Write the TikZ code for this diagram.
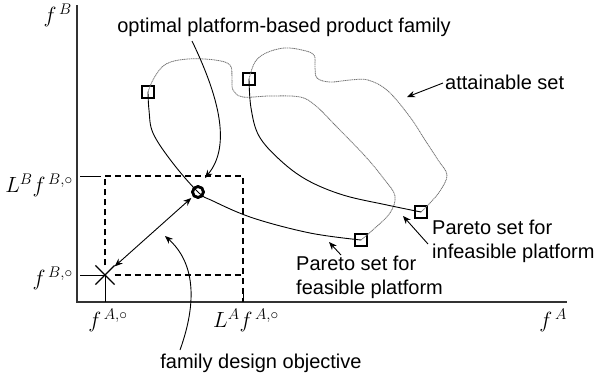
\documentclass[tikz,border=0pt]{standalone}
\usepackage{fix-cm}
\usepackage{fontspec}
\setmainfont{Liberation Sans}
\usetikzlibrary{arrows.meta,shapes.misc,calc}
\begin{document}
\begin{tikzpicture}[x=1pt,y=-1pt,
  txt/.style={font=\fontsize{20}{24}\selectfont, inner sep=0pt},
  mlab/.style={font=\fontsize{22}{24}\selectfont, inner sep=0pt},
  axis/.style={line width=1.5pt, draw=black!80},
  sq/.style={draw, line width=1.2pt, minimum size=12pt, inner sep=0pt},
  curve/.style={line width=0.9pt},
  att/.style={line width=0.8pt, draw=black!55, dash pattern=on 1.2pt off 0.6pt},
  arr/.style={line width=0.9pt, -{Stealth[length=8pt,width=6.5pt]}},
  dbox/.style={line width=1.3pt, dash pattern=on 6pt off 4pt},
  tick/.style={line width=0.9pt}]
\useasboundingbox (0,0) rectangle (616,381);
% axes
\coordinate (o) at (77,302);
\coordinate (ytop) at (77,5);
\coordinate (xend) at (567,302);
\draw[axis] (ytop) -- (o) -- (xend);
% key points
\node[cross out, draw, line width=1.2pt, minimum size=18pt, inner sep=0pt] (x0) at (105,275) {};
\node[circle, draw, line width=2.6pt, minimum size=11pt, inner sep=0pt] (opt) at (198,192) {};
\node[sq] (s1) at (148,92) {};
\node[sq] (s2) at (249,79) {};
\node[sq] (s3) at (361,240) {};
\node[sq] (s4) at (421,212) {};
% dashed box
\coordinate (tl) at (105,176);
\coordinate (tr) at (243,176);
\coordinate (br) at (243,275);
\coordinate (brx) at (243,302);
\draw[dbox] (tl) -- (tr) -- (brx);
\draw[dbox] (x0) -- (tl);
\draw[dbox] (x0) -- (br);
% ticks
\draw[tick] (80,176) -- (101,176);
\draw[tick] (80,275) -- (x0.center);
\draw[tick] (x0.center) -- (105,302);
\draw[tick] (243,291) -- (243,302);
% attainable set
\draw[att] plot[smooth, tension=0.6] coordinates {(s1.center) (154,78) (166,64) (188,59) (215,60) (230,65) (232,78) (233,90) (243,97) (270,96) (300,97) (316,106) (335,125) (365,156) (384,179) (395,196) (390,213) (375,228) (s3.center)};
\draw[att] plot[smooth, tension=0.6] coordinates {(s2.center) (255,62) (266,53) (284,48) (302,50) (314,55) (315,67) (317,78) (330,82) (350,80) (368,80) (388,91) (410,117) (425,140) (438,160) (447,175) (440,191) (430,203) (s4.center)};
% Pareto curves
\draw[curve] plot[smooth, tension=0.6] coordinates {(s1.center) (149,110) (153,133) (172,162) (opt.center) (213,201) (253,218) (310,233) (s3.center)};
\draw[curve] plot[smooth, tension=0.6] coordinates {(s2.center) (251,108) (259,136) (280,160) (307,180) (343,195) (387,205) (s4.center)};
\node[circle, draw, line width=2.6pt, minimum size=11pt, inner sep=0pt] at (opt) {};
% labels
\node[txt] (lopt) at (284,27) {optimal platform-based product family};
\node[txt, anchor=west] (latt) at (445,82) {attainable set};
\node[txt, anchor=west, align=left] (linf) at (432,241) {Pareto set for\\infeasible platform};
\node[txt, anchor=west, align=left] (lfea) at (296,277) {Pareto set for\\feasible platform};
\node[txt] (lfam) at (261,363) {family design objective};
% math labels
\node[mlab, anchor=base east] (lfb) at (72,22) {$f^{\,B}$};
\node[mlab, anchor=base east] (llb) at (73,192) {$L^{B}f^{\,B,\circ}$};
\node[mlab, anchor=base east] (lfbo) at (73,285) {$f^{\,B,\circ}$};
\node[mlab, anchor=base] (lfao) at (108,327) {$f^{\,A,\circ}$};
\node[mlab, anchor=base] (llao) at (246,327) {$L^{A}f^{\,A,\circ}$};
\node[mlab, anchor=base east] (lfa) at (567,327) {$f^{\,A}$};
% arrows
\coordinate (aopt) at (205,178);
\draw[arr] (192,41) .. controls (218,95) and (232,145) .. (aopt);
\coordinate (aatt) at (407,97);
\draw[arr] (443,83) -- (aatt);
\coordinate (ainf) at (403,216);
\draw[arr] (428,244) -- (ainf);
\coordinate (afea) at (329,242);
\draw[arr] (341,255) -- (afea);
\coordinate (afam) at (165,236);
\draw[arr] (180,350) .. controls (198,300) and (194,262) .. (afam);
\draw[line width=0.9pt, {Stealth[length=8pt,width=6.5pt]}-{Stealth[length=8pt,width=6.5pt]}] ($(x0)!13pt!(opt)$) -- ($(opt)!9pt!(x0)$);
\end{tikzpicture}
\end{document}
